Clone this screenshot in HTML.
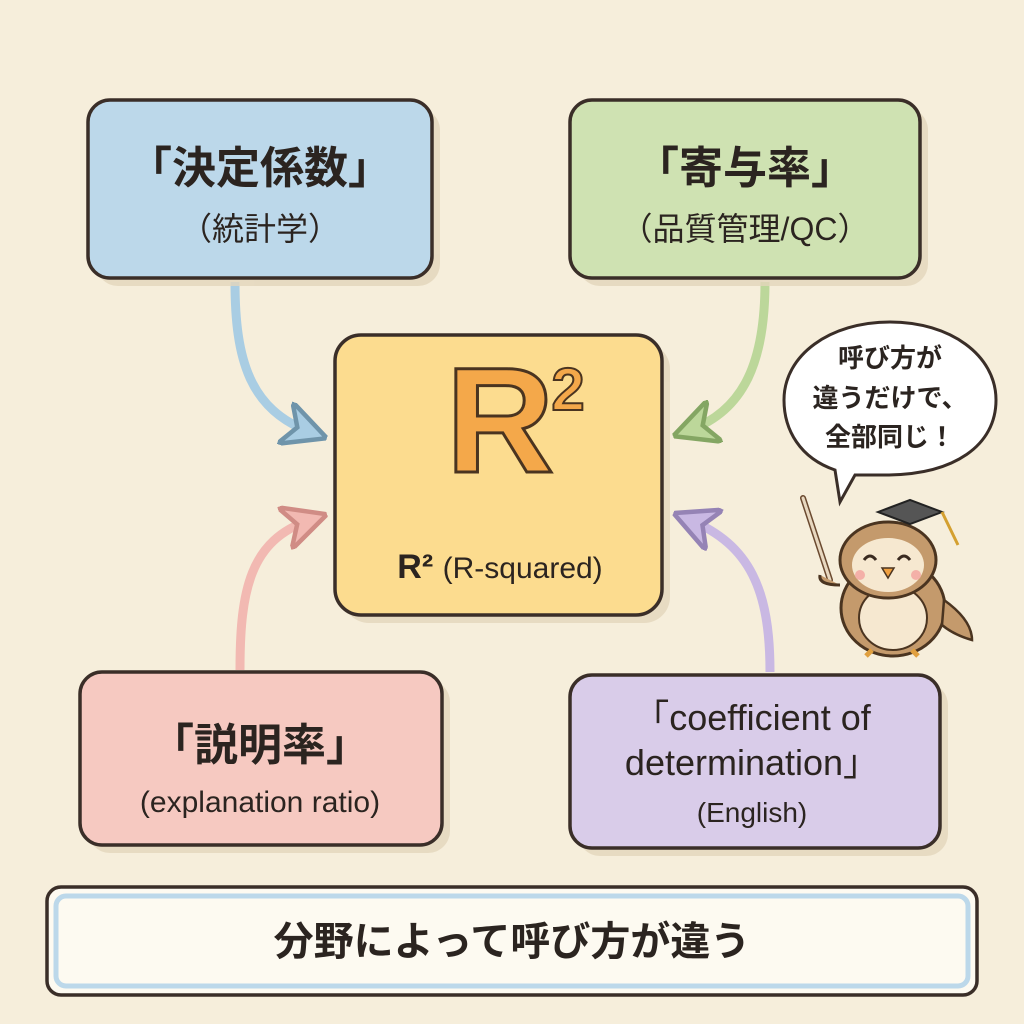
<!DOCTYPE html>
<html><head><meta charset="utf-8"><style>
html,body{margin:0;padding:0;background:#f6eedb;}
svg{display:block}
text{font-family:"Liberation Sans","Noto Sans CJK JP",sans-serif;fill:#2b2420;font-weight:bold;text-anchor:middle}
text.n{font-weight:normal}
</style></head><body>
<svg width="1024" height="1024" viewBox="0 0 1024 1024">
<rect width="1024" height="1024" fill="#f6eedb"/>
<defs>
<marker id="ab" viewBox="0 0 10 10" refX="6" refY="5" markerWidth="5" markerHeight="5" orient="auto"><path d="M0,0 L10,5 L0,10 L3,5z" fill="#a9cde3" stroke="#6f94aa" stroke-width="1"/></marker>
<marker id="ag" viewBox="0 0 10 10" refX="6" refY="5" markerWidth="5" markerHeight="5" orient="auto"><path d="M0,0 L10,5 L0,10 L3,5z" fill="#bcd79a" stroke="#84a663" stroke-width="1"/></marker>
<marker id="ap" viewBox="0 0 10 10" refX="6" refY="5" markerWidth="5" markerHeight="5" orient="auto"><path d="M0,0 L10,5 L0,10 L3,5z" fill="#f2b9b2" stroke="#d08c85" stroke-width="1"/></marker>
<marker id="av" viewBox="0 0 10 10" refX="6" refY="5" markerWidth="5" markerHeight="5" orient="auto"><path d="M0,0 L10,5 L0,10 L3,5z" fill="#c9b8e3" stroke="#9583b5" stroke-width="1"/></marker>
</defs>
<path d="M235,282 C235,360 250,410 310,432" fill="none" stroke="#a9cde3" stroke-width="9" marker-end="url(#ab)"/>
<path d="M765,282 C765,360 745,410 690,430" fill="none" stroke="#bcd79a" stroke-width="9" marker-end="url(#ag)"/>
<path d="M240,670 C240,590 250,540 310,520" fill="none" stroke="#f2b9b2" stroke-width="9" marker-end="url(#ap)"/>
<path d="M770,672 C770,590 750,545 690,520" fill="none" stroke="#c9b8e3" stroke-width="9" marker-end="url(#av)"/>
<g fill="#e3d6bb" opacity="0.8">
<rect x="96" y="108" width="344" height="178" rx="22"/>
<rect x="578" y="108" width="350" height="178" rx="22"/>
<rect x="343" y="343" width="327" height="280" rx="26"/>
<rect x="88" y="680" width="362" height="173" rx="22"/>
<rect x="578" y="683" width="370" height="173" rx="22"/>
</g>
<g stroke="#3a2e28" stroke-width="3.5">
<rect x="88" y="100" width="344" height="178" rx="22" fill="#bcd8ea"/>
<rect x="570" y="100" width="350" height="178" rx="22" fill="#cfe2b2"/>
<rect x="335" y="335" width="327" height="280" rx="26" fill="#fcdc8f"/>
<rect x="80" y="672" width="362" height="173" rx="22" fill="#f6c9c1"/>
<rect x="570" y="675" width="370" height="173" rx="22" fill="#d9cce9"/>
</g>
<text x="260" y="183" font-size="44">「決定係数」</text>
<text class="n" x="260" y="240" font-size="32">（統計学）</text>
<text x="745" y="183" font-size="44">「寄与率」</text>
<text class="n" x="745" y="240" font-size="32">（品質管理/QC）</text>
<text x="500" y="472" font-size="150" style="fill:#f4a84a;stroke:#4a3420;stroke-width:3">R</text>
<text x="568" y="410" font-size="60" style="fill:#f4a84a;stroke:#4a3420;stroke-width:2">2</text>
<text x="500" y="578" font-size="34">R² <tspan style="font-weight:normal" font-size="30">(R-squared)</tspan></text>
<text x="260" y="760" font-size="44">「説明率」</text>
<text class="n" x="260" y="812" font-size="30">(explanation ratio)</text>
<text class="n" x="752" y="730" font-size="36">「coefficient of</text>
<text class="n" x="752" y="775" font-size="36">determination」</text>
<text class="n" x="752" y="822" font-size="28">(English)</text>
<rect x="47" y="887" width="930" height="108" rx="14" fill="#fdfaf1" stroke="#3a2e28" stroke-width="3.5"/>
<rect x="56" y="896" width="912" height="90" rx="10" fill="none" stroke="#bcd8ea" stroke-width="5"/>
<text x="512" y="955" font-size="40">分野によって呼び方が違う</text>
<path d="M890,322 C950,322 996,355 996,400 C996,445 955,475 885,475 L855,475 L840,502 L835,470 C800,458 784,430 784,400 C784,355 830,322 890,322Z" fill="#fff" stroke="#3a2e28" stroke-width="3"/>
<text x="890" y="367" font-size="26">呼び方が</text>
<text x="890" y="407" font-size="26">違うだけで、</text>
<text x="890" y="446" font-size="26">全部同じ！</text>
<line x1="803" y1="498" x2="830" y2="580" stroke="#6b4a30" stroke-width="6" stroke-linecap="round"/>
<line x1="803" y1="498" x2="830" y2="580" stroke="#e8d8c0" stroke-width="3" stroke-linecap="round"/>
<ellipse cx="893" cy="608" rx="52" ry="48" fill="#c49a6c" stroke="#4a3420" stroke-width="3"/>
<ellipse cx="893" cy="618" rx="34" ry="32" fill="#f6e8d0" stroke="#4a3420" stroke-width="2"/>
<ellipse cx="888" cy="560" rx="48" ry="38" fill="#c49a6c" stroke="#4a3420" stroke-width="3"/>
<ellipse cx="888" cy="565" rx="36" ry="27" fill="#f6e8d0"/>
<path d="M864,560 q6,-8 12,0 M898,560 q6,-8 12,0" fill="none" stroke="#3a2a20" stroke-width="3"/>
<path d="M882,568 l6,10 l6,-10z" fill="#f0a040" stroke="#4a3420" stroke-width="1.5"/>
<circle cx="860" cy="575" r="5" fill="#f4b0a8"/><circle cx="916" cy="575" r="5" fill="#f4b0a8"/>
<path d="M878,512 l32,-12 l32,12 l-32,12z" fill="#555" stroke="#222" stroke-width="2"/>
<line x1="942" y1="512" x2="958" y2="545" stroke="#d4a030" stroke-width="3"/>
<path d="M840,585 q-22,0 -20,-10" fill="#c49a6c" stroke="#4a3420" stroke-width="3"/>
<path d="M944,600 q28,20 28,40 q-18,-5 -30,-15z" fill="#c49a6c" stroke="#4a3420" stroke-width="2.5"/>
<path d="M872,650 l-6,6 M912,650 l6,6" stroke="#e0a040" stroke-width="5"/>
</svg>
</body></html>
